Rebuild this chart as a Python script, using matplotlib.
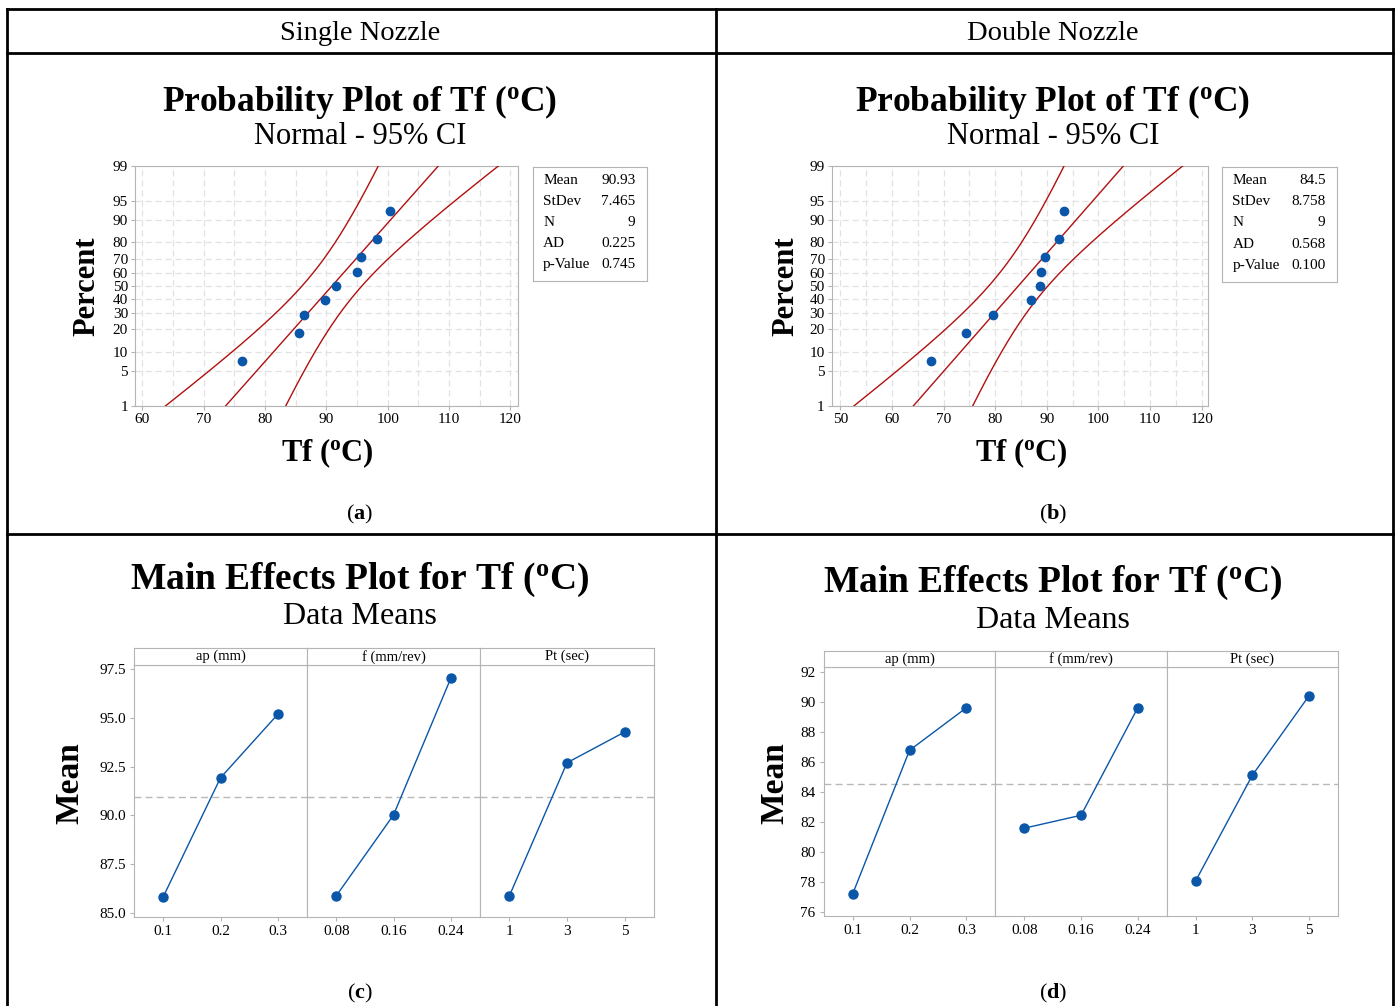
import matplotlib
matplotlib.use("Agg")
import matplotlib.pyplot as plt
from matplotlib.lines import Line2D
import numpy as np
from statistics import NormalDist

plt.rcParams['font.family'] = ['Liberation Serif', 'DejaVu Serif']
plt.rcParams['mathtext.fontset'] = 'custom'
plt.rcParams['mathtext.rm'] = 'Liberation Serif'
plt.rcParams['mathtext.bf'] = 'Liberation Serif:bold'
plt.rcParams['mathtext.it'] = 'Liberation Serif:italic'

# ---------------- data ----------------
percent_pos = [7.4, 18.1, 28.7, 39.4, 50.0, 60.6, 71.3, 81.9, 92.6]
single_tf = [76.3, 85.6, 86.3, 89.7, 91.55, 95.0, 95.7, 98.3, 100.3]
double_tf = [67.6, 74.4, 79.6, 87.0, 88.6, 88.8, 89.6, 92.4, 93.4]

single_stats_labels = ['Mean', 'StDev', 'N', 'AD', 'p-Value']
single_stats_values = ['90.93', '7.465', '9', '0.225', '0.745']
double_stats_values = ['84.5', '8.758', '9', '0.568', '0.100']
single_mean, single_sd, single_n = 90.93, 7.465, 9
double_mean, double_sd, double_n = 84.5, 8.758, 9

prob_yticks = [1, 5, 10, 20, 30, 40, 50, 60, 70, 80, 90, 95, 99]
single_xticks = [60, 70, 80, 90, 100, 110, 120]
double_xticks = [50, 60, 70, 80, 90, 100, 110, 120]

factor_names = ['ap (mm)', 'f (mm/rev)', 'Pt (sec)']
ap_levels = ['0.1', '0.2', '0.3']
f_levels = ['0.08', '0.16', '0.24']
pt_levels = ['1', '3', '5']
single_ap = [85.82, 91.93, 95.19]
single_f = [85.87, 90.02, 97.04]
single_pt = [85.87, 92.70, 94.28]
double_ap = [77.22, 86.77, 89.60]
double_f = [81.59, 82.45, 89.60]
double_pt = [78.08, 85.11, 90.40]
single_yticks = [85.0, 87.5, 90.0, 92.5, 95.0, 97.5]
double_yticks = [76, 78, 80, 82, 84, 86, 88, 90, 92]

# ---------------- layout helpers ----------------
W, H = 1397, 1006
fig = plt.figure(figsize=(W / 100, H / 100), dpi=100)

def rect(x0, y0, x1, y1):
    return [x0 / W, 1 - y1 / H, (x1 - x0) / W, (y1 - y0) / H]

def ftext(x, y, s, **kw):
    kw.setdefault('ha', 'center')
    kw.setdefault('va', 'center')
    fig.text(x / W, 1 - y / H, s, **kw)

def hline(y, x0, x1, lw=2):
    fig.add_artist(Line2D([x0 / W, x1 / W], [1 - y / H, 1 - y / H], color='black', lw=lw))

def vline(x, y0, y1, lw=2):
    fig.add_artist(Line2D([x / W, x / W], [1 - y0 / H, 1 - y1 / H], color='black', lw=lw))

# table frame
hline(9, 7, 1393)
hline(53, 7, 1393)
hline(534, 7, 1393)
vline(7, 9, 1006)
vline(716, 9, 1006)
vline(1393, 9, 1006)

ftext(360, 34, 'Single Nozzle', fontsize=20.5)
ftext(1053, 34, 'Double Nozzle', fontsize=20.5)

BLUE = '#0a56a8'
RED = '#b01010'
FRAME = '#b4b4b4'
GRID = '#e2e2e2'

nd = NormalDist()
def z(p):
    return nd.inv_cdf(p / 100.0)

def prob_plot(ax_rect, data, mean, sd, n, xticks, xlim, box_rect, values,
              title_xy, xlabel_xy, ylabel_xy):
    ax = fig.add_axes(rect(*ax_rect))
    zmin, zmax = z(1), z(99)
    zz = np.linspace(zmin - 0.05, zmax + 0.05, 300)
    fit = mean + sd * zz
    half = 1.96 * np.sqrt(sd ** 2 / n + zz ** 2 * sd ** 2 / (2 * (n - 1)))
    for curve in (fit, fit - half, fit + half):
        ax.plot(curve, zz, color=RED, lw=1.0, zorder=3)
    ax.plot(data, [z(p) for p in percent_pos], 'o', color=BLUE, ms=6, zorder=4)
    ax.set_ylim(zmin, zmax)
    ax.set_xlim(*xlim)
    ax.set_yticks([z(p) for p in prob_yticks])
    ax.set_yticklabels([str(p) for p in prob_yticks])
    ax.set_xticks(xticks)
    ax.set_xticks([t + 5 for t in xticks[:-1]], minor=True)
    for xt in list(xticks) + [t + 5 for t in xticks[:-1]]:
        ax.axvline(xt, color=GRID, lw=0.9, ls=(0, (5, 3)), zorder=1)
    for p in prob_yticks:
        ax.axhline(z(p), color=GRID, lw=0.9, ls=(0, (5, 3)), zorder=1)
    ax.tick_params(which='both', direction='out', length=3, color=FRAME,
                   labelsize=11, pad=2)
    ax.tick_params(which='minor', length=0)
    for s in ax.spines.values():
        s.set_color(FRAME)
    ax.set_axisbelow(True)
    # titles and labels
    ftext(title_xy[0], title_xy[1], r'Probability Plot of Tf ($^{\mathbf{o}}$C)',
          fontsize=25.5, fontweight='bold')
    ftext(title_xy[0], title_xy[1] + 35, 'Normal - 95% CI', fontsize=22)
    ftext(xlabel_xy[0], xlabel_xy[1], r'Tf ($^{\mathbf{o}}$C)', fontsize=22, fontweight='bold')
    ftext(ylabel_xy[0], ylabel_xy[1], 'Percent', fontsize=22, fontweight='bold', rotation=90)
    # stats box
    bx = fig.add_axes(rect(*box_rect))
    bx.set_xticks([]); bx.set_yticks([])
    for s in bx.spines.values():
        s.set_color(FRAME)
    bx.set_xlim(0, 1); bx.set_ylim(0, 1)
    for i, (lab, val) in enumerate(zip(single_stats_labels, values)):
        yy = 1 - (i + 0.65) / 5.45
        bx.text(0.09, yy, lab, fontsize=11, ha='left', va='center')
        bx.text(0.90, yy, val, fontsize=11, ha='right', va='center')
    return ax

prob_plot((135, 165.7, 518, 406), single_tf, single_mean, single_sd, single_n,
          single_xticks, (58.8, 121.25), (533, 167, 647, 281), single_stats_values,
          (360, 102), (327, 453), (87, 286))
prob_plot((831.7, 165.7, 1208.3, 406), double_tf, double_mean, double_sd, double_n,
          double_xticks, (48.33, 121.28), (1222, 167, 1337, 282), double_stats_values,
          (1053, 102), (1021, 453), (786, 286))

def main_effects(xs, y0, y1, strip_top, series, ylim, yticks, yfmt, mean,
                 title_xy, ylabel_xy):
    levels = [ap_levels, f_levels, pt_levels]
    for k in range(3):
        ax = fig.add_axes(rect(xs[k], y0, xs[k + 1], y1))
        xpos = [1, 2, 3]
        ax.plot(xpos, series[k], '-o', color=BLUE, lw=1.0, ms=6.5)
        ax.axhline(mean, color='#b8b8b8', lw=1.0, ls=(0, (5, 3)), zorder=0)
        ax.set_xlim(0.49, 3.51)
        ax.set_ylim(*ylim)
        ax.set_xticks(xpos)
        ax.set_xticklabels(levels[k])
        ax.set_yticks(yticks)
        if k == 0:
            ax.set_yticklabels([yfmt.format(v) for v in yticks])
        else:
            ax.tick_params(axis='y', left=False, labelleft=False)
        ax.tick_params(direction='out', length=3, color=FRAME, labelsize=11, pad=3)
        for s in ax.spines.values():
            s.set_color(FRAME)
        sx = fig.add_axes(rect(xs[k], strip_top, xs[k + 1], y0))
        sx.set_xticks([]); sx.set_yticks([])
        for s in sx.spines.values():
            s.set_color(FRAME)
        sx.text(0.5, 0.5, factor_names[k], fontsize=10.5, ha='center', va='center',
                transform=sx.transAxes)
    ftext(title_xy[0], title_xy[1], r'Main Effects Plot for Tf ($^{\mathbf{o}}$C)',
          fontsize=27, fontweight='bold')
    ftext(title_xy[0], title_xy[1] + 37, 'Data Means', fontsize=23)
    ftext(ylabel_xy[0], ylabel_xy[1], 'Mean', fontsize=24, fontweight='bold', rotation=90)

main_effects([134, 307, 480, 654], 665, 916.7, 648.3,
             [single_ap, single_f, single_pt], (84.8, 97.72), single_yticks, '{:.1f}',
             single_mean, (360, 580), (70, 783))
main_effects([823.7, 995.4, 1166.7, 1338], 667.3, 916, 650.7,
             [double_ap, double_f, double_pt], (75.75, 92.29), double_yticks, '{:.0f}',
             double_mean, (1053, 583), (775, 783))

ftext(360, 514, r'($\mathbf{a}$)', fontsize=16)
ftext(1053, 514, r'($\mathbf{b}$)', fontsize=16)
ftext(360, 993, r'($\mathbf{c}$)', fontsize=16)
ftext(1053, 993, r'($\mathbf{d}$)', fontsize=16)

fig.savefig('out.png', dpi=100)
